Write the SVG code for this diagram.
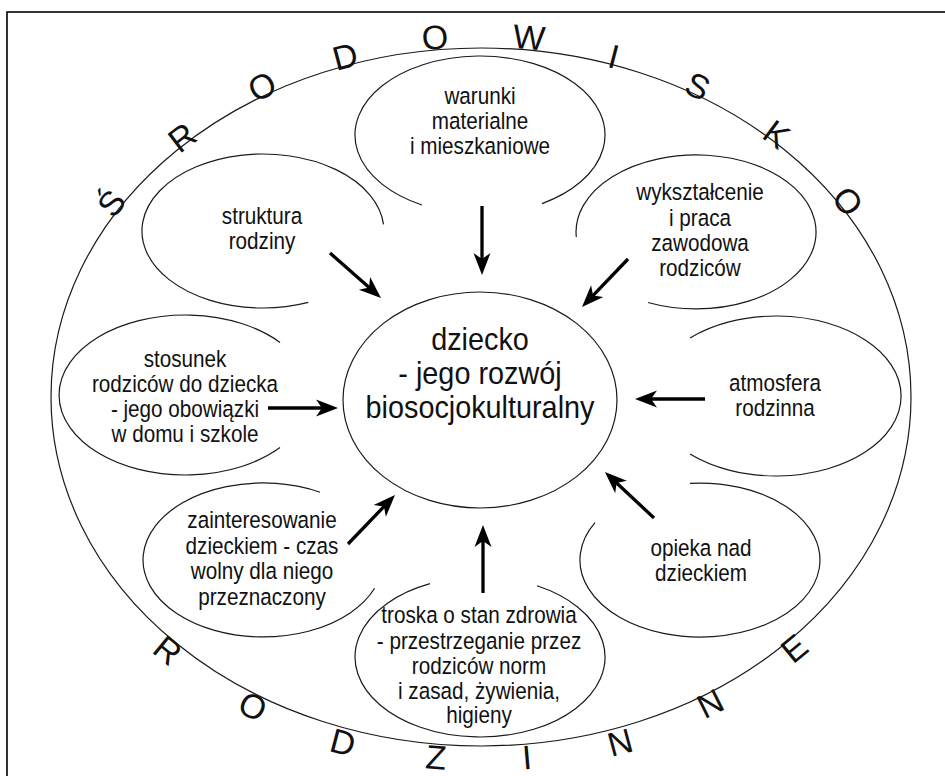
<svg xmlns="http://www.w3.org/2000/svg" width="945" height="776" viewBox="0 0 945 776">
<style>
.frame{fill:none;stroke:#000;stroke-width:1.6}
.outline{fill:none;stroke:#1a1a1a;stroke-width:1.2}
.lbl{font-family:"Liberation Sans",Arial,sans-serif;font-size:23.5px;fill:#111;text-anchor:middle}
.big{font-family:"Liberation Sans",Arial,sans-serif;font-size:32px;fill:#111;text-anchor:middle}
.ring{font-family:"Liberation Sans",Arial,sans-serif;font-size:34px;fill:#111;text-anchor:middle}
.arrow{stroke:#000;stroke-width:3.3;fill:none;marker-end:url(#ah)}
</style>
<defs>
<marker id="ah" markerUnits="userSpaceOnUse" viewBox="-11 -10 24 20" refX="0" refY="0" markerWidth="24" markerHeight="20" orient="auto">
<path d="M12,0 L-10,-8.5 L-4,0 L-10,8.5 Z" fill="#000"/>
</marker>
</defs>
<rect x="0" y="0" width="945" height="776" fill="#fff"/>
<rect class="frame" x="7" y="12" width="960" height="790"/>

<g id="srodowisko">
<ellipse class="outline" cx="481" cy="397" rx="430" ry="349"/>
<g class="ring">
<text x="111" y="203" dy="0.36em" transform="rotate(-51.2 111 203)">Ś</text>
<text x="182" y="137" dy="0.36em" transform="rotate(-37.1 182 137)">R</text>
<text x="262" y="86" dy="0.36em" transform="rotate(-24.8 262 86)">O</text>
<text x="345" y="56" dy="0.36em" transform="rotate(-14.7 345 56)">D</text>
<text x="435" y="37" dy="0.36em" transform="rotate(-4.8 435 37)">O</text>
<text x="529" y="37" dy="0.36em" transform="rotate(5 529 37)">W</text>
<text x="614" y="56" dy="0.36em" transform="rotate(14.4 614 56)">I</text>
<text x="698" y="86" dy="0.36em" transform="rotate(24.7 698 86)">S</text>
<text x="777" y="134" dy="0.36em" transform="rotate(36.6 777 134)">K</text>
<text x="848" y="201" dy="0.36em" transform="rotate(50.9 848 201)">O</text>
<text x="168" y="650" dy="0.36em" transform="rotate(39.2 168 650)">R</text>
<text x="253" y="706" dy="0.36em" transform="rotate(25.9 253 706)">O</text>
<text x="343" y="742" dy="0.36em" transform="rotate(14.8 343 742)">D</text>
<text x="436" y="757" dy="0.36em" transform="rotate(4.7 436 757)">Z</text>
<text x="527" y="757" dy="0.36em" transform="rotate(-4.8 527 757)">I</text>
<text x="620" y="742" dy="0.36em" transform="rotate(-14.9 620 742)">N</text>
<text x="710" y="703" dy="0.36em" transform="rotate(-26.3 710 703)">N</text>
<text x="794" y="648" dy="0.36em" transform="rotate(-39.4 794 648)">E</text>
</g>
</g>

<g id="dziecko">
<ellipse class="outline" cx="480" cy="400" rx="137" ry="108"/>
<text class="big" transform="translate(480,0) scale(0.9,1)"><tspan x="0" y="350">dziecko</tspan><tspan x="0" y="384">- jego rozwój</tspan><tspan x="0" y="418">biosocjokulturalny</tspan></text>
</g>

<g id="warunki">
<path class="outline" d="M422,205 A125 79 0 1 1 542,203.6"/>
<text class="lbl" transform="translate(480,0) scale(0.88,1)"><tspan x="0" y="104">warunki</tspan><tspan x="0" y="129">materialne</tspan><tspan x="0" y="154">i mieszkaniowe</tspan></text>
</g>

<g id="struktura">
<path class="outline" d="M383.5,224.3 A121 77 0 1 0 308.3,302.4"/>
<text class="lbl" transform="translate(262,0) scale(0.88,1)"><tspan x="0" y="224">struktura</tspan><tspan x="0" y="249">rodziny</tspan></text>
</g>

<g id="wyksztalcenie">
<path class="outline" d="M576.3,237 A120 77 0 1 1 648,302.5"/>
<text class="lbl" transform="translate(700,0) scale(0.88,1)"><tspan x="0" y="200">wykształcenie</tspan><tspan x="0" y="226">i praca</tspan><tspan x="0" y="251">zawodowa</tspan><tspan x="0" y="276">rodziców</tspan></text>
</g>

<g id="stosunek">
<path class="outline" d="M280,342.4 A126 80 0 1 0 280,447.6"/>
<text class="lbl" transform="translate(185,0) scale(0.88,1)"><tspan x="0" y="367">stosunek</tspan><tspan x="0" y="392">rodziców do dziecka</tspan><tspan x="0" y="417">- jego obowiązki</tspan><tspan x="0" y="442">w domu i szkole</tspan></text>
</g>

<g id="atmosfera">
<path class="outline" d="M690,338 A125 80 0 1 1 690,454"/>
<text class="lbl" transform="translate(775,0) scale(0.88,1)"><tspan x="0" y="391">atmosfera</tspan><tspan x="0" y="416">rodzinna</tspan></text>
</g>

<g id="opieka">
<path class="outline" d="M690,483.3 A120 77 0 1 1 595,522.7"/>
<text class="lbl" transform="translate(701,0) scale(0.88,1)"><tspan x="0" y="556">opieka nad</tspan><tspan x="0" y="581">dzieckiem</tspan></text>
</g>

<g id="zainteresowanie">
<path class="outline" d="M320,492.2 A120 77 0 1 0 374.6,588.3"/>
<text class="lbl" transform="translate(262,0) scale(0.88,1)"><tspan x="0" y="528">zainteresowanie</tspan><tspan x="0" y="554">dzieckiem - czas</tspan><tspan x="0" y="579">wolny dla niego</tspan><tspan x="0" y="605">przeznaczony</tspan></text>
</g>

<g id="troska">
<path class="outline" d="M430,583.7 A125 80 0 1 0 537,585.8"/>
<text class="lbl" transform="translate(479,0) scale(0.88,1)"><tspan x="0" y="623">troska o stan zdrowia</tspan><tspan x="0" y="649">- przestrzeganie przez</tspan><tspan x="0" y="674">rodziców norm</tspan><tspan x="0" y="699">i zasad, żywienia,</tspan><tspan x="0" y="723">higieny</tspan></text>
</g>

<g id="connectors">
<line class="arrow" x1="482" y1="206" x2="482" y2="263"/>
<line class="arrow" x1="330" y1="253" x2="372" y2="290.1"/>
<line class="arrow" x1="628" y1="259" x2="590.3" y2="298.3"/>
<line class="arrow" x1="268" y1="408" x2="326" y2="408"/>
<line class="arrow" x1="705" y1="399" x2="647" y2="399"/>
<line class="arrow" x1="654" y1="518" x2="613.7" y2="480.2"/>
<line class="arrow" x1="348" y1="544" x2="386.7" y2="503.7"/>
<line class="arrow" x1="483" y1="593" x2="483" y2="537"/>
</g>
</svg>
